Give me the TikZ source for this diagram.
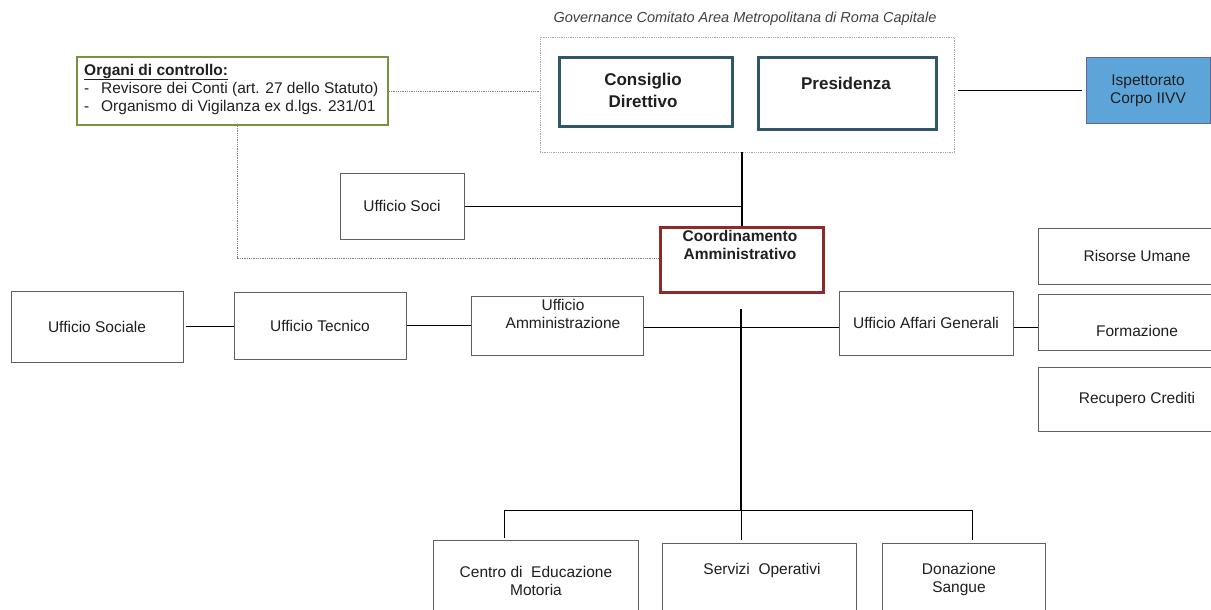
\documentclass[tikz,border=0pt]{standalone}
\usepackage{fontspec}
\setmainfont{Liberation Sans}
\usetikzlibrary{positioning,calc}

\definecolor{govblue}{HTML}{31566A}
\definecolor{coordred}{HTML}{8E2A2A}
\definecolor{ctrlgreen}{HTML}{77933C}
\definecolor{ispblue}{HTML}{5DA5D8}
\definecolor{boxgray}{HTML}{5F5F5F}
\definecolor{txtgray}{HTML}{1F1F1F}

\tikzset{
  office/.style={draw=boxgray,line width=1pt,fill=white,inner sep=0pt,
    align=center,text=txtgray,font=\fontsize{15.5}{18}\selectfont},
  board/.style={draw=govblue,line width=3pt,fill=white,inner sep=0pt},
  boardtxt/.style={align=center,text=txtgray,inner sep=0pt,
    font=\fontsize{17}{22}\selectfont\bfseries},
  plaintxt/.style={align=center,text=txtgray,inner sep=0pt,
    font=\fontsize{15.5}{18}\selectfont},
  link/.style={line width=1pt},
  spine/.style={line width=2pt},
  dotlink/.style={densely dotted,line width=0.8pt,draw=gray}
}

\begin{document}
\begin{tikzpicture}[x=1pt,y=-1pt]
\useasboundingbox (0,0) rectangle (1211,610);
\clip (0,0) rectangle (1211,610);

% governance
\node[text=txtgray!85,font=\fontsize{14.5}{17}\selectfont\itshape] (govcap) at (745,19)
  {Governance Comitato Area Metropolitana di Roma Capitale};
\node[draw=gray!70,densely dotted,line width=0.8pt,minimum width=414,minimum height=115] (gov) at (747,94.5) {};
\node[board,minimum width=173,minimum height=68] (cd) at (645.5,92) {};
\node[boardtxt] (cdtxt) at (643,90) {Consiglio\\Direttivo};
\node[board,minimum width=178,minimum height=71] (pres) at (847,93.5) {};
\node[boardtxt] (prestxt) at (846,83) {Presidenza};

% organi di controllo
\node[draw=ctrlgreen,line width=2pt,minimum width=311,minimum height=68] (ctrl) at (232.5,91) {};
\node[plaintxt,align=left,anchor=west] (ctrltxt) at (84,89)
  {\underline{\textbf{Organi di controllo:}}\\
   \makebox[17pt][l]{-}Revisore dei Conti (art. 27 dello Statuto)\\
   \makebox[17pt][l]{-}Organismo di Vigilanza ex d.lgs. 231/01};

\node[office,draw=gray!80!blue,fill=ispblue,minimum width=124,minimum height=65] (isp) at (1148,90.5)
  {Ispettorato\\Corpo IIVV};

\node[office,minimum width=124,minimum height=66] (soci) at (402,206) {Ufficio Soci};

% coordinamento
\node[draw=coordred,line width=3pt,fill=white,minimum width=163,minimum height=65] (coord) at (741.5,259.5) {};
\node[plaintxt,font=\fontsize{15.5}{18}\selectfont\bfseries] (coordtxt) at (740,245) {Coordinamento\\Amministrativo};

% uffici
\node[office,minimum width=172,minimum height=71] (sociale) at (97,326.5) {Ufficio Sociale};
\node[office,minimum width=172,minimum height=67] (tecnico) at (320,325.5) {Ufficio Tecnico};
\node[office,minimum width=172,minimum height=59] (amm) at (557,325.5) {};
\node[plaintxt] (ammtxt) at (563,314) {Ufficio\\Amministrazione};
\node[office,minimum width=174,minimum height=64] (affgen) at (926,323) {Ufficio Affari Generali};

\node[office,minimum width=198,minimum height=56] (risorse) at (1137,256) {Risorse Umane};
\node[office,minimum width=198,minimum height=56] (form) at (1137,322) {};
\node[plaintxt] (formtxt) at (1137,331) {Formazione};
\node[office,minimum width=198,minimum height=64] (recup) at (1137,399) {Recupero Crediti};

% servizi in basso
\node[office,minimum width=205,minimum height=80] (centro) at (535.5,580) {};
\node[plaintxt] (centrotxt) at (536,581) {Centro di\ \ Educazione\\Motoria};
\node[office,minimum width=194,minimum height=77] (servizi) at (759,581.5) {};
\node[plaintxt] (servizitxt) at (762,570) {Servizi\ \ Operativi};
\node[office,minimum width=163,minimum height=77] (donaz) at (963.5,581.5) {};
\node[plaintxt] (donaztxt) at (959,579.5) {Donazione\\Sangue};

% connectors
\draw[dotlink] (ctrl.east) -- (ctrl.east -| gov.west);
\draw[dotlink] ($(ctrl.south)+(4.5,0)$) -- ($(ctrl.south |- coord.west)+(4.5,-1.5)$) -- ($(coord.west)+(0,-1.5)$);
\draw[link,shorten <=4pt,shorten >=4pt] (gov.east |- isp.west) -- (isp.west);
\draw[spine] (coord.north |- gov.south) -- (coord.north);
\draw[link] (soci.east) -- (soci.east -| coord.north);

\draw[link,shorten <=2pt] (sociale.east) -- (sociale.east -| tecnico.west);
\draw[link] (tecnico.east) -- (tecnico.east -| amm.west);
\draw[link] ($(amm.east)+(0,2)$) -- ($(amm.east -| affgen.west)+(0,2)$);
\draw[link] ($(affgen.east)+(0,4)$) -- ($(affgen.east -| form.west)+(0,4)$);

\coordinate (spinetop) at (741,309);
\coordinate (hub) at (741,510);
\coordinate (busL) at (504,510);
\coordinate (busR) at (972,510);
\draw[spine] (spinetop) -- (hub);
\draw[link] (busL) -- (busR);
\draw[link,shorten >=2pt] (busL) -- (busL |- centro.north);
\draw[link,shorten >=3pt] (hub) -- (hub |- servizi.north);
\draw[link,shorten >=3pt] (busR) -- (busR |- donaz.north);
\end{tikzpicture}
\end{document}
